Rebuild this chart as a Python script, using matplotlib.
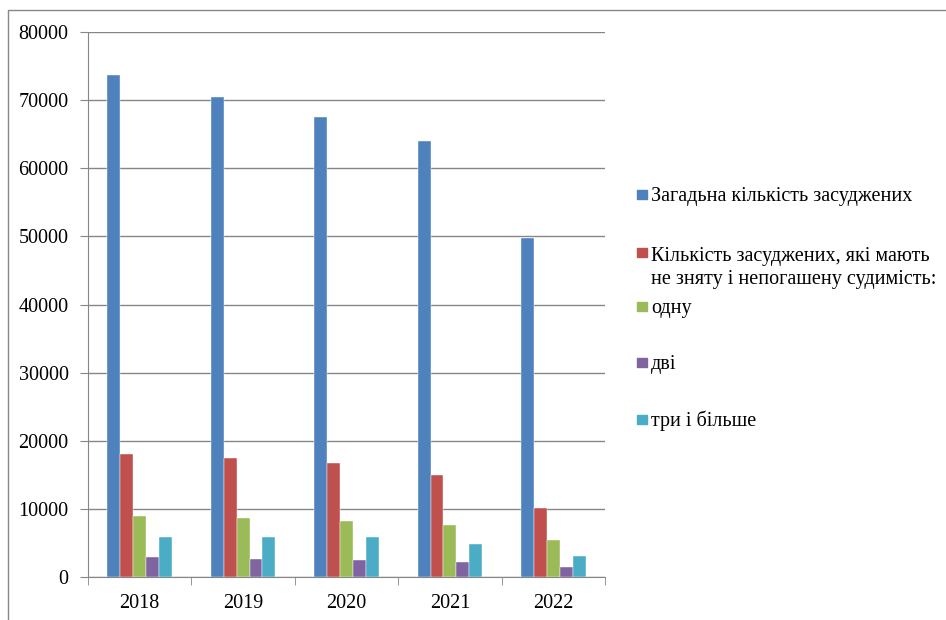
import matplotlib.pyplot as plt
import numpy as np
from matplotlib.lines import Line2D
from matplotlib.patches import Rectangle

plt.rcParams['font.family'] = ['Liberation Serif', 'DejaVu Serif']

# Data
years = ['2018', '2019', '2020', '2021', '2022']
total = [73700, 70450, 67500, 64000, 49750]
with_record = [18000, 17400, 16750, 14950, 10150]
one = [9000, 8650, 8150, 7650, 5500]
two = [2900, 2600, 2500, 2150, 1400]
three_plus = [5850, 5850, 5850, 4800, 3050]

labels = ['Загадьна кількість засуджених',
          'Кількість засуджених, які мають\nне зняту і непогашену судимість:',
          'одну', 'дві', 'три і більше']
colors = ['#4F81BD', '#C0504D', '#9BBB59', '#8064A2', '#4BACC6']
series = [total, with_record, one, two, three_plus]

W, H = 946, 620
fs = 14.5
fig = plt.figure(figsize=(W / 100, H / 100), dpi=100)
ax = fig.add_axes([88 / W, (H - 577) / H, (605 - 88) / W, (577 - 32) / H])

x = np.arange(len(years))
bw = 0.125
for i, (vals, c) in enumerate(zip(series, colors)):
    ax.bar(x + (i - 2) * bw, vals, width=bw, color=c, edgecolor='white',
           linewidth=0.3, zorder=3)

ax.set_xlim(-0.5, len(years) - 0.5)
ax.set_ylim(0, 80000)
ax.set_yticks(np.arange(0, 80001, 10000))
ax.set_yticklabels([str(v) for v in range(0, 80001, 10000)], fontsize=fs)
ax.set_xticks(x)
ax.set_xticklabels(years, fontsize=fs)
ax.set_xticks(np.arange(-0.5, len(years)), minor=True)
ax.tick_params(axis='x', which='major', length=0, pad=12)
ax.tick_params(axis='x', which='minor', length=6, color='#868686')
ax.tick_params(axis='y', length=6, color='#868686', pad=8)
ax.grid(axis='y', color='#868686', linewidth=1, zorder=0)
for s in ['top', 'right']:
    ax.spines[s].set_visible(False)
for s in ['left', 'bottom']:
    ax.spines[s].set_color('#868686')

# Legend (placed like the Excel legend)
centers = [194.5, 252, 306, 362, 419]
line_px = 25
for lab, c, yc in zip(labels, colors, centers):
    fig.patches.append(Rectangle((637 / W, 1 - (yc + 4.5) / H), 10 / W, 9 / H,
                                 transform=fig.transFigure, color=c, figure=fig))
    n = lab.count('\n')
    fig.text(651 / W, 1 - (yc + 7 + n * line_px) / H, lab, fontsize=fs,
             va='baseline', ha='left', linespacing=1.25)

# Border (top and left only, as in the cropped screenshot)
fig.lines.append(Line2D([8 / W, 8 / W, 1], [0, 1 - 10 / H, 1 - 10 / H],
                        transform=fig.transFigure, color='#888888', linewidth=1))

fig.savefig('out.png', dpi=100)
